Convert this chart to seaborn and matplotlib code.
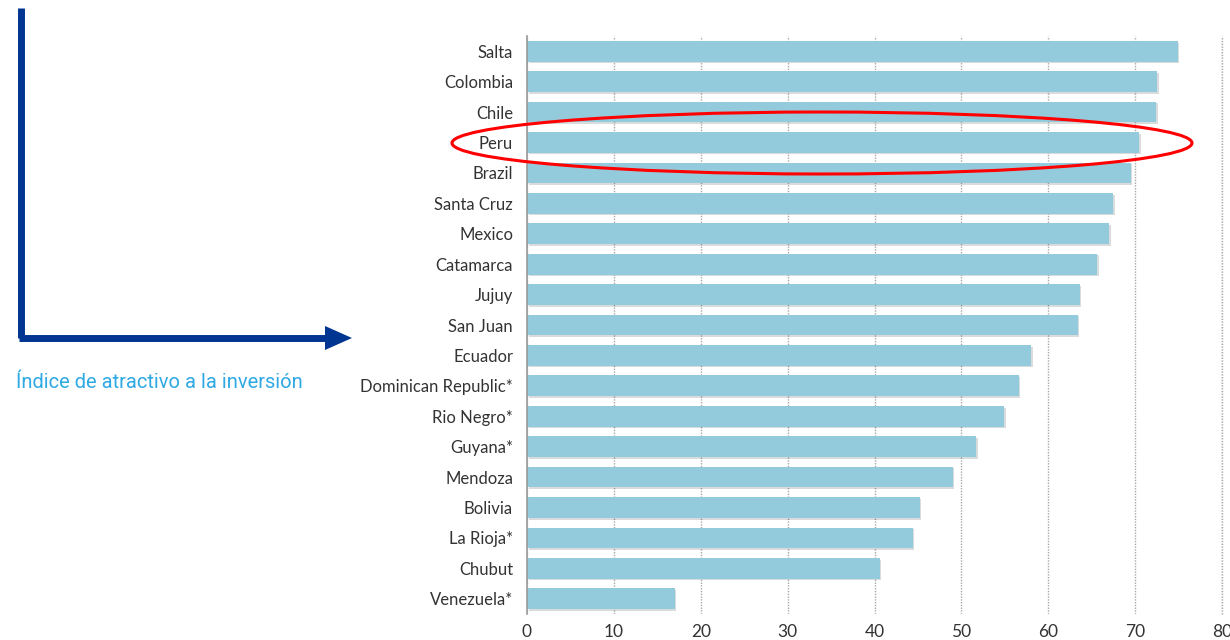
import matplotlib.pyplot as plt
import matplotlib.patheffects as pe
from matplotlib.patches import Ellipse, FancyArrow
from matplotlib.lines import Line2D
import seaborn as sns
import numpy as np
import pandas as pd

# data
regions = ["Salta", "Colombia", "Chile", "Peru", "Brazil", "Santa Cruz", "Mexico",
           "Catamarca", "Jujuy", "San Juan", "Ecuador", "Dominican Republic*",
           "Rio Negro*", "Guyana*", "Mendoza", "Bolivia", "La Rioja*", "Chubut",
           "Venezuela*"]
scores = [74.9, 72.5, 72.4, 70.5, 69.5, 67.5, 67.0, 65.6, 63.6, 63.4, 58.0, 56.6,
          54.9, 51.7, 49.0, 45.2, 44.4, 40.6, 17.0]
xticks = [0, 10, 20, 30, 40, 50, 60, 70, 80]
side_label = "Índice de atractivo a la inversión"

df = pd.DataFrame({"region": regions, "score": scores})

sns.set_style("white")
plt.rcParams['font.family'] = ['Lato', 'DejaVu Sans']

fig = plt.figure(figsize=(12.3, 6.4), dpi=100)
ax = fig.add_axes([527 / 1230, 1 - 614 / 640, 695 / 1230, 578 / 640])

sns.barplot(data=df, x="score", y="region", orient="h", color="#93cbdc",
            saturation=1, width=0.68, ax=ax)
for bar in ax.patches:
    bar.set_linewidth(0)
    bar.set_path_effects([pe.SimplePatchShadow(offset=(1.2, -1.2), alpha=0.18),
                          pe.Normal()])

ax.set_xlim(0, 80)
ax.set_ylim(len(regions) - 0.5, -0.5)
ax.set_xticks(xticks)
ax.set_xlabel("")
ax.set_ylabel("")
ax.tick_params(axis="x", length=0, labelsize=12.5, labelcolor="#333333", pad=7)
ax.tick_params(axis="y", which="major", length=0, labelsize=12,
               labelcolor="#333333", pad=10)
ax.set_yticks(np.arange(len(regions) + 1) - 0.5, minor=True)
ax.tick_params(axis="y", which="minor", length=5, color="#999999", width=1)
ax.grid(axis="x", linestyle=(0, (1, 1)), color="#a8a8a8", linewidth=1.0)
ax.set_axisbelow(True)
for s in ["top", "right", "bottom"]:
    ax.spines[s].set_visible(False)
ax.spines["left"].set_color("#999999")
ax.spines["left"].set_linewidth(1.2)

# gridline at 80 sits on the axes edge
ax.axvline(80, linestyle=(0, (1, 1)), color="#a8a8a8", linewidth=1.0, clip_on=False)

# red ellipse around Peru
ell = Ellipse((822 / 1230, 1 - 143 / 640), 740 / 1230, 62 / 640,
              transform=fig.transFigure, fill=False, edgecolor="#ff0000",
              linewidth=2.2)
fig.add_artist(ell)

# decorative L-shaped arrow on the left
blue = "#003591"
fig.add_artist(Line2D([21 / 1230, 21 / 1230], [1 - 8 / 640, 1 - 338 / 640],
                      transform=fig.transFigure, color=blue, linewidth=5,
                      solid_capstyle="butt"))
fig.add_artist(Line2D([19 / 1230, 330 / 1230], [1 - 338 / 640, 1 - 338 / 640],
                      transform=fig.transFigure, color=blue, linewidth=5,
                      solid_capstyle="butt"))
fig.add_artist(FancyArrow(325 / 1230, 1 - 338 / 640, 27 / 1230, 0,
                          width=0, head_width=24 / 640, head_length=27 / 1230,
                          length_includes_head=True, transform=fig.transFigure,
                          color=blue, linewidth=0))

fig.text(16 / 1230, 1 - 383 / 640, side_label, fontsize=14.5, color="#2fa9e4",
         fontweight="normal", family=["Roboto", "DejaVu Sans"],
         ha="left", va="center")

fig.savefig("out.png", dpi=100)
